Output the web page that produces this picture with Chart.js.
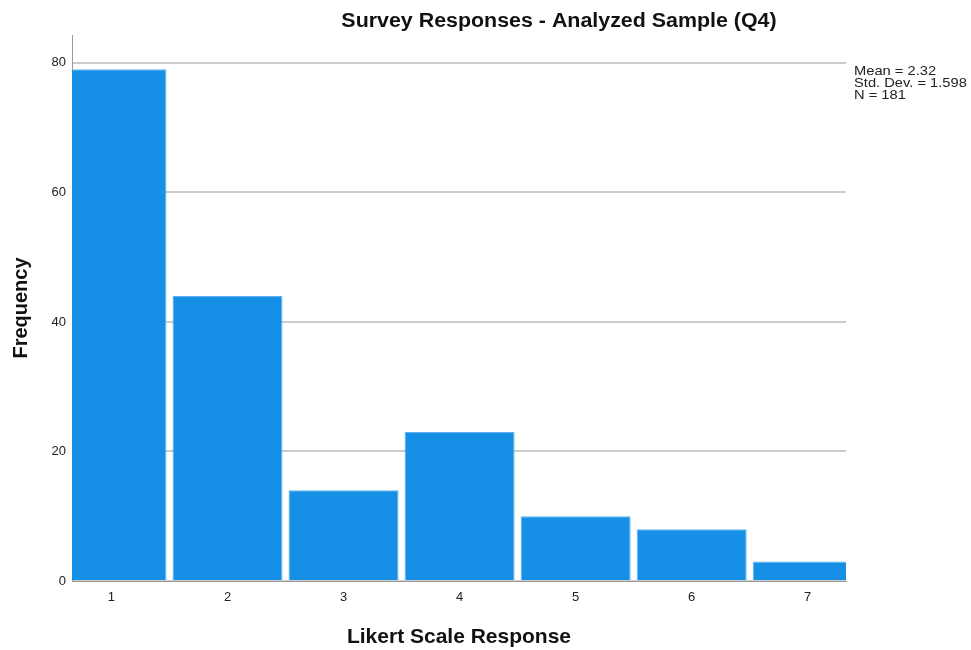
<!DOCTYPE html>
<html>
<head>
<meta charset="utf-8">
<script src="https://cdn.jsdelivr.net/npm/chart.js@4/dist/chart.umd.min.js"></script>
<style>
  html, body { margin: 0; padding: 0; background: #fff; }
  #wrap { width: 971px; height: 650px; }
</style>
</head>
<body>
<div id="wrap"><canvas id="hist"></canvas></div>
<script>
// histogram data
const responses = [1, 2, 3, 4, 5, 6, 7];
const frequency = [79, 44, 14, 23, 10, 8, 3];
const yTicks = [0, 20, 40, 60, 80];
const statLines = ['Mean = 2.32', 'Std. Dev. = 1.598', 'N = 181'];
const chartTitle = 'Survey Responses - Analyzed Sample (Q4)';

const font = 'Arial, "Liberation Sans", sans-serif';

// title + stats box drawn on the canvas
const extras = {
    id: 'extras',
    afterDraw(chart) {
        const c = chart.ctx;
        c.save();
        c.fillStyle = '#111';
        c.font = 'bold 20px ' + font;
        c.textAlign = 'center';
        c.textBaseline = 'middle';
        // text in the reference is drawn a bit wider than Arial
        c.save();
        c.translate(559, 21);
        c.scale(1.07, 1);
        c.fillText(chartTitle, 0, 0);
        c.restore();
        c.font = '13px ' + font;
        c.textAlign = 'left';
        c.fillStyle = '#222';
        c.translate(854, 0);
        c.scale(1.13, 1);
        statLines.forEach((t, i) => c.fillText(t, 0, 71 + i * 12));
        c.restore();
    }
};

const ctx = document.getElementById('hist').getContext('2d');
new Chart(ctx, {
    type: 'bar',
    data: {
        datasets: [{
            data: responses.map((r, i) => ({ x: r, y: frequency[i] })),
            backgroundColor: '#1590e6',
            borderColor: '#5fb2ee',
            borderWidth: 1,
            barPercentage: 0.948,
            categoryPercentage: 1
        }]
    },
    options: {
        responsive: true,
        maintainAspectRatio: false,
        animation: false,
        layout: { padding: { top: 35, right: 125, left: 0, bottom: 0 } },
        plugins: { legend: { display: false }, tooltip: { enabled: false } },
        scales: {
            x: {
                type: 'linear',
                min: 0.66,
                max: 7.33,
                offset: false,
                afterBuildTicks: s => { s.ticks = responses.map(v => ({ value: v })); },
                afterFit: s => { s.height = 69; },
                grid: { display: false, drawTicks: false },
                border: { color: '#999', width: 1 },
                ticks: { color: '#222', font: { size: 13, family: font }, padding: 9 },
                title: {
                    display: true,
                    text: 'Likert Scale Response',
                    color: '#111',
                    font: { size: 21, weight: 'bold', family: font },
                    padding: { top: 19, bottom: 0 }
                }
            },
            y: {
                min: 0,
                max: 84.3,
                afterBuildTicks: s => { s.ticks = yTicks.map(v => ({ value: v })); },
                afterFit: s => { s.width = 72; },
                grid: { color: '#cccccc', lineWidth: 2, drawTicks: false },
                border: { color: '#999', width: 1 },
                ticks: { color: '#222', font: { size: 13, family: font }, padding: 6 },
                title: {
                    display: true,
                    text: 'Frequency',
                    color: '#111',
                    font: { size: 20, weight: 'bold', family: font },
                    padding: { top: 9, bottom: 14 }
                }
            }
        }
    },
    plugins: [extras]
});
</script>
</body>
</html>
